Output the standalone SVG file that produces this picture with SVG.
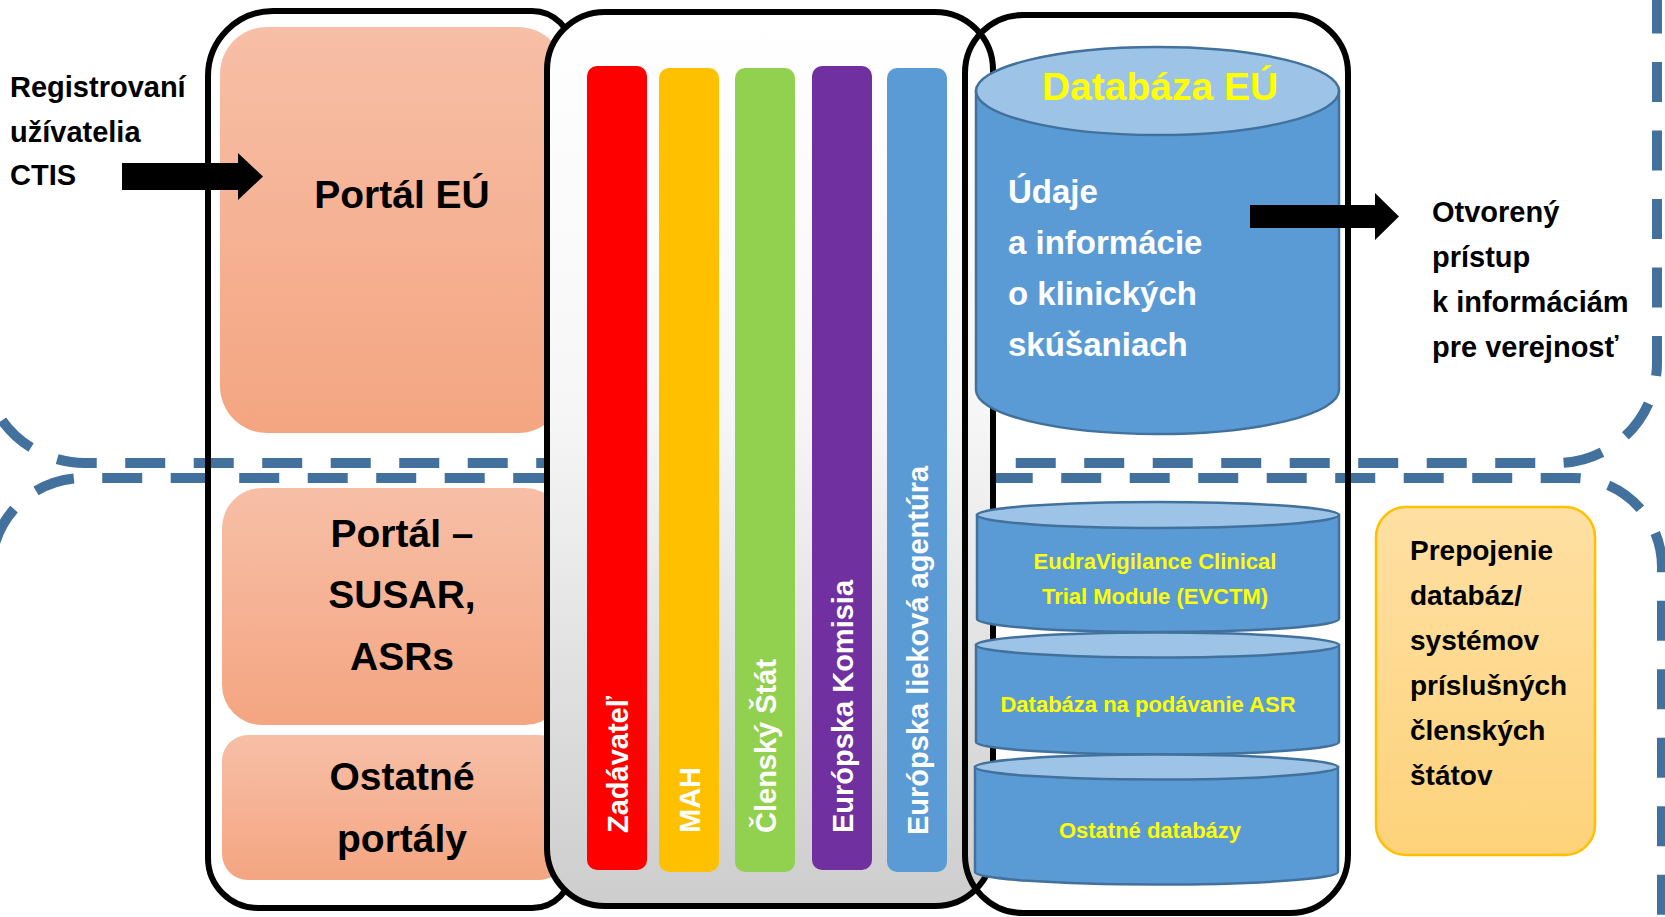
<svg xmlns="http://www.w3.org/2000/svg" width="1665" height="917" viewBox="0 0 1665 917">
  <defs>
    <linearGradient id="salmon" x1="0" y1="0" x2="0" y2="1">
      <stop offset="0" stop-color="#F7BFA7"/>
      <stop offset="1" stop-color="#F4A581"/>
    </linearGradient>
    <linearGradient id="gray" x1="0" y1="0" x2="0" y2="1">
      <stop offset="0" stop-color="#FFFFFF"/>
      <stop offset="0.45" stop-color="#F6F6F6"/>
      <stop offset="1" stop-color="#CDCDCD"/>
    </linearGradient>
    <linearGradient id="amber" x1="0" y1="0" x2="0" y2="1">
      <stop offset="0" stop-color="#FFE0A3"/>
      <stop offset="1" stop-color="#FDD27A"/>
    </linearGradient>
    <style>
      .region { fill: none; stroke: #41719C; stroke-width: 10; stroke-dasharray: 40 28.5; }
      .frame { fill: none; stroke: #000; stroke-width: 6; }
      .portal { fill: url(#salmon); }
      .bar { stroke: none; }
      .cylbody { fill: #5B9BD5; stroke: #41719C; stroke-width: 2.5; }
      .cyltop { fill: #9DC3E6; stroke: #41719C; stroke-width: 2.5; }
      .arrow { fill: #000; }
      .t { font-family: "Liberation Sans", Arial, sans-serif; font-weight: bold; }
      .big { font-size: 39px; fill: #000; text-anchor: middle; }
      .side { font-size: 29px; fill: #000; }
      .bartxt { font-size: 29px; fill: #FFFFFF; }
      .white { font-size: 33px; fill: #FFFFFF; }
      .yel { fill: #FFFF00; text-anchor: middle; }
      .ms { font-size: 28px; fill: #000; }
    </style>
  </defs>

  <g id="regions">
    <path class="region" stroke-dashoffset="-33.2" d="M -17,-20 V 361 A 102 102 0 0 0 85,463 H 1557 A 100 100 0 0 0 1657,363 V -20"/>
    <path class="region" stroke-dashoffset="-54" d="M -9,940 V 570 A 92 92 0 0 1 83,478 H 1573 A 89 89 0 0 1 1662,567 V 940"/>
  </g>

  <g id="portal-container">
    <path class="frame" d="M 208,76 A 65 65 0 0 1 273,11 H 532 A 40 40 0 0 1 572,51 V 868 A 40 40 0 0 1 532,908 H 258 A 50 50 0 0 1 208,858 Z"/>
  </g>

  <g id="portal-eu">
    <rect class="portal" x="220" y="27" width="345" height="406" rx="47"/>
    <text class="t big" x="402" y="208">Portál EÚ</text>
  </g>

  <g id="portal-susar">
    <rect class="portal" x="222" y="488" width="343" height="237" rx="40"/>
    <text class="t big" x="402" y="547">Portál –</text>
    <text class="t big" x="402" y="608">SUSAR,</text>
    <text class="t big" x="402" y="670">ASRs</text>
  </g>

  <g id="portal-other">
    <rect class="portal" x="222" y="735" width="343" height="145" rx="26"/>
    <text class="t big" x="402" y="790">Ostatné</text>
    <text class="t big" x="402" y="852">portály</text>
  </g>

  <g id="users-container">
    <rect x="547" y="12" width="446" height="894" rx="58" fill="url(#gray)" stroke="#000" stroke-width="6"/>
  </g>

  <g id="bar-zadavatel">
    <rect class="bar" x="587" y="66" width="60" height="804" rx="10" fill="#FF0000"/>
    <text class="t bartxt" transform="translate(627.5,833) rotate(-90)">Zadávateľ</text>
  </g>
  <g id="bar-mah">
    <rect class="bar" x="659" y="68" width="60" height="804" rx="10" fill="#FFC000"/>
    <text class="t bartxt" transform="translate(699.5,833) rotate(-90)">MAH</text>
  </g>
  <g id="bar-clensky-stat">
    <rect class="bar" x="735" y="68" width="60" height="804" rx="10" fill="#92D050"/>
    <text class="t bartxt" transform="translate(775.5,833) rotate(-90)">Členský Štát</text>
  </g>
  <g id="bar-komisia">
    <rect class="bar" x="812" y="66" width="60" height="804" rx="10" fill="#7030A0"/>
    <text class="t bartxt" transform="translate(852.5,833) rotate(-90)">Európska Komisia</text>
  </g>
  <g id="bar-ema">
    <rect class="bar" x="887" y="68" width="60" height="804" rx="10" fill="#5B9BD5"/>
    <text class="t bartxt" transform="translate(927.5,835) rotate(-90)">Európska lieková agentúra</text>
  </g>

  <g id="database-container">
    <rect class="frame" x="965" y="15" width="383" height="898" rx="58"/>
  </g>

  <g id="db-eu">
    <path class="cylbody" d="M 976,91 V 390 A 181.5 44 0 0 0 1339,390 V 91 Z"/>
    <ellipse class="cyltop" cx="1157.5" cy="91" rx="181.5" ry="44"/>
    <text class="t yel" x="1160" y="100" font-size="39">Databáza EÚ</text>
    <text class="t white" x="1008" y="203">Údaje</text>
    <text class="t white" x="1008" y="254">a informácie</text>
    <text class="t white" x="1008" y="305">o klinických</text>
    <text class="t white" x="1008" y="356">skúšaniach</text>
  </g>

  <g id="db-evctm">
    <path class="cylbody" d="M 977,515 V 619 A 181 13 0 0 0 1339,619 V 515 Z"/>
    <ellipse class="cyltop" cx="1158" cy="515" rx="181" ry="13"/>
    <text class="t yel" x="1155" y="569" font-size="22">EudraVigilance Clinical</text>
    <text class="t yel" x="1155" y="604" font-size="22">Trial Module (EVCTM)</text>
  </g>

  <g id="db-asr">
    <path class="cylbody" d="M 976,645 V 742 A 181.5 12.5 0 0 0 1339,742 V 645 Z"/>
    <ellipse class="cyltop" cx="1157.5" cy="645" rx="181.5" ry="12.5"/>
    <text class="t yel" x="1148" y="712" font-size="22">Databáza na podávanie ASR</text>
  </g>

  <g id="db-other">
    <path class="cylbody" d="M 975,767 V 872 A 181.5 12.5 0 0 0 1338,872 V 767 Z"/>
    <ellipse class="cyltop" cx="1156.5" cy="767" rx="181.5" ry="12.5"/>
    <text class="t yel" x="1150" y="838" font-size="22">Ostatné databázy</text>
  </g>

  <g id="member-states">
    <rect x="1376" y="507" width="219" height="348" rx="30" fill="url(#amber)" stroke="#FFC000" stroke-width="2.5"/>
    <text class="t ms" x="1410" y="560">Prepojenie</text>
    <text class="t ms" x="1410" y="605">databáz/</text>
    <text class="t ms" x="1410" y="650">systémov</text>
    <text class="t ms" x="1410" y="695">príslušných</text>
    <text class="t ms" x="1410" y="740">členských</text>
    <text class="t ms" x="1410" y="785">štátov</text>
  </g>

  <g id="registered-users">
    <text class="t side" x="10" y="97">Registrovaní</text>
    <text class="t side" x="10" y="142">užívatelia</text>
    <text class="t side" x="10" y="185">CTIS</text>
  </g>

  <g id="public-access">
    <text class="t side" x="1432" y="222">Otvorený</text>
    <text class="t side" x="1432" y="267">prístup</text>
    <text class="t side" x="1432" y="312">k informáciám</text>
    <text class="t side" x="1432" y="357">pre verejnosť</text>
  </g>

  <g id="connectors">
    <polygon class="arrow" points="122,163 238,163 238,153 263,176.5 238,200 238,190 122,190"/>
    <polygon class="arrow" points="1250,205 1375,205 1375,193 1399,216.5 1375,240 1375,228 1250,228"/>
  </g>
</svg>
